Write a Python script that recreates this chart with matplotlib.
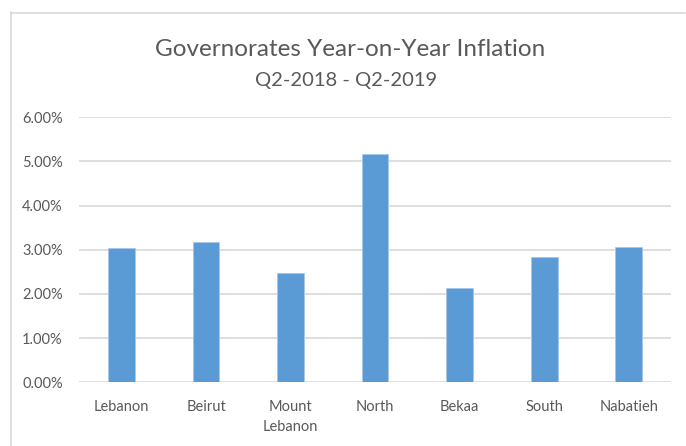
import matplotlib
matplotlib.use("Agg")
import matplotlib.pyplot as plt
from matplotlib.lines import Line2D
from matplotlib.ticker import FuncFormatter

categories = ["Lebanon", "Beirut", "Mount\nLebanon", "North", "Bekaa", "South", "Nabatieh"]
inflation = [3.03, 3.17, 2.48, 5.18, 2.13, 2.83, 3.07]  # percent
yticks = [0, 1, 2, 3, 4, 5, 6]

title = "Governorates Year-on-Year Inflation"
subtitle = "Q2-2018 - Q2-2019"

W, H = 686, 446
fig = plt.figure(figsize=(W / 100, H / 100), dpi=100)
plt.rcParams['font.family'] = ['Lato', 'DejaVu Sans']
txt = "#595959"
grid = "#d9d9d9"

ax = fig.add_axes([79.3 / W, 1 - 382.3 / H, 591.7 / W, 265 / H])
x = list(range(len(categories)))
ax.bar(x, inflation, width=0.315, color="#5B9BD5", edgecolor="#a9c8ea", linewidth=0.6, zorder=3)
ax.set_xlim(-0.5, len(categories) - 0.5)
ax.set_ylim(0, 6)
ax.set_yticks(yticks)
ax.yaxis.set_major_formatter(FuncFormatter(lambda v, p: f"{v:.2f}%"))
ax.set_xticks(x)
ax.set_xticklabels(categories, linespacing=1.55)
ax.tick_params(axis="both", length=0, labelsize=10.5, labelcolor=txt)
ax.tick_params(axis="y", pad=12)
ax.tick_params(axis="x", pad=13)
ax.grid(axis="y", color=grid, linewidth=1.2, zorder=0)
for s in ax.spines.values():
    s.set_visible(False)

# chart border (left and top visible)
fig.add_artist(Line2D([11 / W, 11 / W], [0, 1 - 12 / H], color=grid, linewidth=1.2))
fig.add_artist(Line2D([11 / W, 685 / W], [1 - 12.5 / H, 1 - 12.5 / H], color=grid, linewidth=1.2))

fig.text(350 / W, 1 - 56 / H, title, ha="center", va="baseline", fontsize=17.5, color=txt)
fig.text(346 / W, 1 - 86 / H, subtitle, ha="center", va="baseline", fontsize=14.5, color=txt)

fig.savefig("out.png", dpi=100)
